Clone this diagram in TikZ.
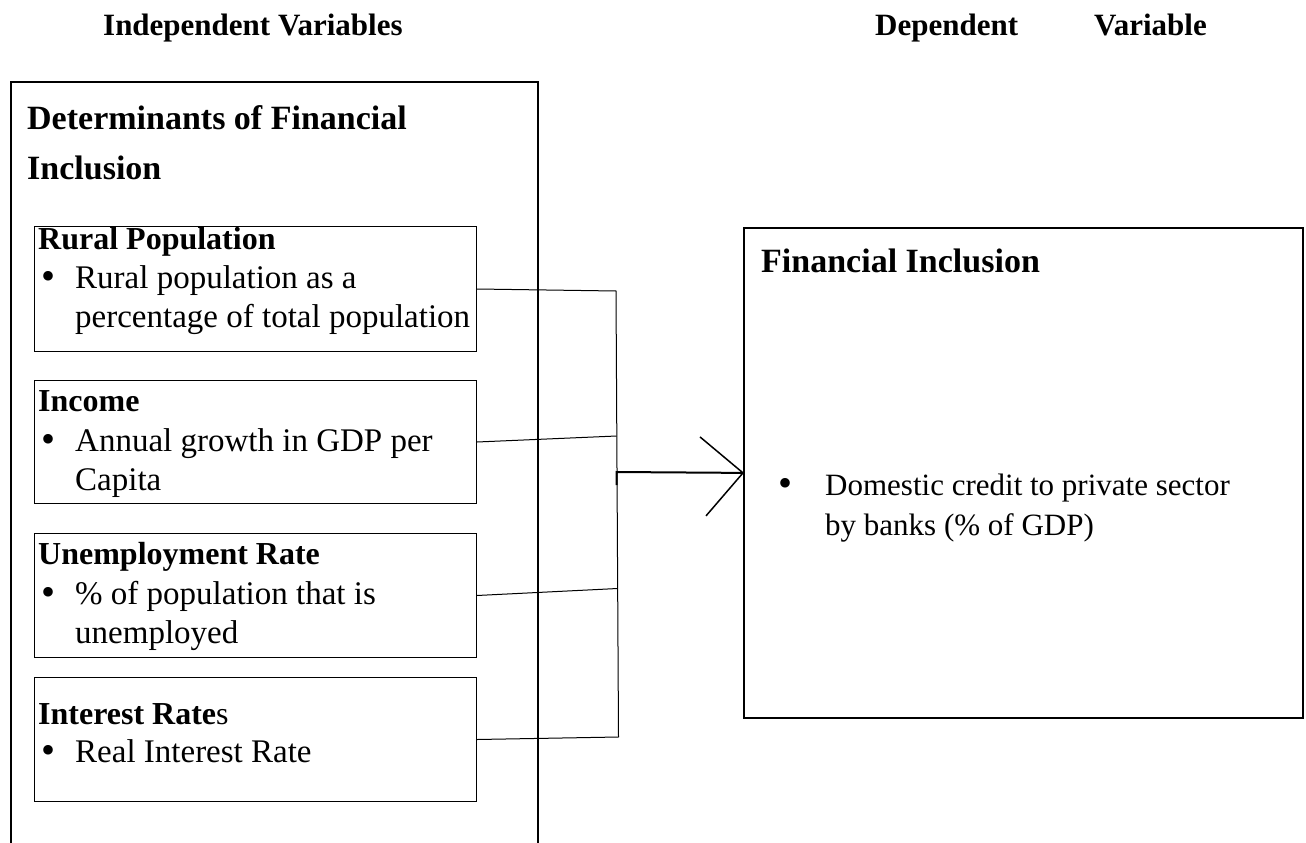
\documentclass[tikz,border=0pt]{standalone}
\usepackage{fontspec}
\setmainfont{Liberation Serif}
\usetikzlibrary{arrows.meta,calc}
\begin{document}
\begin{tikzpicture}[x=1pt,y=-1pt,
  hdr/.style={font=\fontsize{31}{36}\selectfont\bfseries, anchor=base west, inner sep=0pt},
  ttl/.style={font=\fontsize{34}{40}\selectfont\bfseries, anchor=base west, inner sep=0pt},
  sub/.style={font=\fontsize{32}{38}\selectfont\bfseries, anchor=base west, inner sep=0pt},
  txt/.style={font=\fontsize{33}{38}\selectfont, anchor=base west, inner sep=0pt},
  rtxt/.style={font=\fontsize{31}{38}\selectfont, anchor=base west, inner sep=0pt},
  bul/.style={font=\fontsize{40}{44}\selectfont, anchor=base, inner sep=0pt},
  ibox/.style={draw, line width=1pt, minimum width=442pt, inner sep=0pt, anchor=north west},
  fbox/.style={draw, line width=1.8pt, minimum width=559pt, minimum height=490pt, inner sep=0pt, anchor=north west},
  obox/.style={line width=1.5pt},
  conn/.style={line width=1pt},
  arrowline/.style={line width=2pt}
]
\useasboundingbox (0,0) rectangle (1306,843);
% headers
\node[hdr] (hind) at (103,36) {Independent Variables};
\node[hdr] (hdep) at (875,36) {Dependent};
\node[hdr] (hvar) at (1094,36) {Variable};
% outer box
\draw[obox] (11,850) -- (11,82) -- (538,82) -- (538,850);
\node[ttl] (t1) at (27,129) {Determinants of Financial};
\node[ttl] (t2) at (27,179) {Inclusion};
% inner boxes
\node[ibox, minimum height=125pt] (b1) at (34,226) {};
\node[ibox, minimum height=123pt] (b2) at (34,380) {};
\node[ibox, minimum height=124pt] (b3) at (34,533) {};
\node[ibox, minimum height=124pt] (b4) at (34,677) {};
% box 1
\node[sub] (b1t) at (38,249) {Rural Population};
\node[bul] (b1b) at (49,289) {•};
\node[txt] (b1l1) at (75,288) {Rural population as a};
\node[txt] (b1l2) at (75,327) {percentage of total population};
% box 2
\node[sub] (b2t) at (38,411) {Income};
\node[bul] (b2b) at (49,452) {•};
\node[txt] (b2l1) at (75,451) {Annual growth in GDP per};
\node[txt] (b2l2) at (75,490) {Capita};
% box 3
\node[sub] (b3t) at (38,564) {Unemployment Rate};
\node[bul] (b3b) at (49,605) {•};
\node[txt] (b3l1) at (75,604) {\% of population that is};
\node[txt] (b3l2) at (75,643) {unemployed};
% box 4
\node[sub] (b4t) at (38,724) {Interest Rate\textmd{s}};
\node[bul] (b4b) at (49,763) {•};
\node[txt] (b4l1) at (75,762) {Real Interest Rate};
% right box
\node[fbox] (fi) at (743,227) {};
\node[ttl] (fit) at (761,272) {Financial Inclusion};
\node[bul] (fib) at (785,496) {•};
\node[rtxt] (fil1) at (825,495) {Domestic credit to private sector};
\node[rtxt] (fil2) at (825,535) {by banks (\% of GDP)};
% connectors
\coordinate (j1) at (616,291);
\coordinate (j2) at (616.5,436);
\coordinate (j3) at (617.5,588.5);
\coordinate (j4) at (618.5,737);
\coordinate (ja) at (616.5,472);
\draw[conn] (b1.east) -- (j1) -- (j4);
\draw[conn] (b2.east) -- (j2);
\draw[conn] (b3.east) -- (j3);
\draw[conn] (b4.east) -- (j4);
\draw[arrowline] ($(ja)+(0,13)$) -- (ja) -- (fi.west);
\draw[arrowline, line width=1.5pt] ($(fi.west)+(-43,-36)$) -- (fi.west) -- ($(fi.west)+(-37,43)$);
\end{tikzpicture}
\end{document}
